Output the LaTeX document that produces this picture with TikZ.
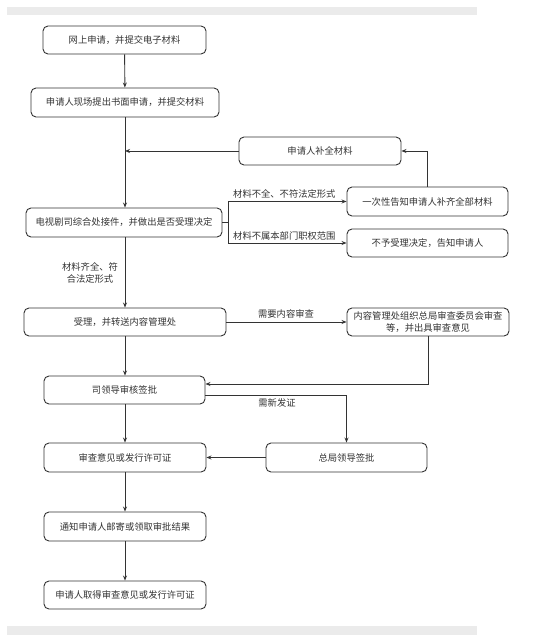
\documentclass[tikz,border=0pt]{standalone}
\usepackage{fontspec}
\setmainfont{Noto Sans CJK SC}
\usetikzlibrary{arrows.meta,calc}
\definecolor{ink}{HTML}{333333}
\definecolor{barc}{HTML}{EBEBEB}
\tikzset{
  box/.style={draw=ink,line width=0.9pt,rounded corners=5pt,text=ink,font=\fontsize{9.3}{12}\selectfont,align=center,inner sep=1pt},
  conn/.style={draw=ink,line width=0.9pt,-{Stealth[length=5pt,width=4pt]}},
  plain/.style={draw=ink,line width=0.9pt},
  lbl/.style={text=ink,font=\fontsize{9.3}{12}\selectfont,inner sep=1pt}
}
\begin{document}
\begin{tikzpicture}[x=1pt,y=-1pt]
\useasboundingbox[fill=white] (0,0) rectangle (553,644);
\fill[barc] (7,7) rectangle (477,15);
\fill[barc] (7,626) rectangle (477,635);

\node[box,minimum width=163pt,minimum height=28pt] (b1) at (124.5,40) {网上申请，并提交电子材料};
\node[box,minimum width=188pt,minimum height=29pt] (b2) at (125,102.5) {申请人现场提出书面申请，并提交材料};
\node[box,minimum width=162pt,minimum height=28pt] (b3) at (320,151) {申请人补全材料};
\node[box,minimum width=161pt,minimum height=29pt] (b4) at (427.5,201.5) {一次性告知申请人补齐全部材料};
\node[box,minimum width=196pt,minimum height=29pt] (b5) at (124,222.5) {电视剧司综合处接件，并做出是否受理决定};
\node[box,minimum width=161pt,minimum height=28pt] (b6) at (427.5,243) {不予受理决定，告知申请人};
\node[box,minimum width=202pt,minimum height=28pt] (b7) at (125,322) {受理，并转送内容管理处};
\node[box,minimum width=162pt,minimum height=28pt] (b8) at (428,322) {内容管理处组织总局审查委员会审查\\等，并出具审查意见};
\node[box,minimum width=161pt,minimum height=28pt] (b9) at (124.5,390) {司领导审核签批};
\node[box,minimum width=162pt,minimum height=29pt] (b10) at (125,457.5) {审查意见或发行许可证};
\node[box,minimum width=161pt,minimum height=29pt] (b11) at (346.5,457.5) {总局领导签批};
\node[box,minimum width=162pt,minimum height=29pt] (b12) at (125,526.5) {通知申请人邮寄或领取审批结果};
\node[box,minimum width=162pt,minimum height=28pt] (b13) at (125,595) {申请人取得审查意见或发行许可证};

\draw[conn] (b1) -- (b2);
\draw[conn] (b2) -- (b2 |- b5.north);
\draw[conn] (b3.west) -- (b3.west -| b2);
\draw[plain] (b5.east) -- ++(6,0) coordinate (br);
\draw[conn] (br) |- (b4.west);
\draw[conn] (br) |- (b6.west);
\draw[conn] (b4.north) |- (b3.east);
\node[lbl,anchor=south west] (l1) at (232,199) {材料不全、不符法定形式};
\node[lbl,anchor=south west] (l2) at (232,241) {材料不属本部门职权范围};
\draw[conn] (b5.south -| b2) -- (b7.north -| b2);
\node[lbl,align=center] (l3) at (90,273) {材料齐全、符\\合法定形式};
\draw[conn] (b7.east) -- (b8.west);
\node[lbl] (l4) at (286,314) {需要内容审查};
\draw[conn] (b8.south) |- ([yshift=6pt]b9.east);
\draw[conn] ([yshift=-5pt]b9.east) -| (b11.north);
\node[lbl] (l5) at (277,403) {需新发证};
\draw[conn] (b7.south -| b2) -- (b9.north -| b2);
\draw[conn] (b9.south -| b2) -- (b10.north -| b2);
\draw[conn] (b11.west) -- (b10.east);
\draw[conn] (b10) -- (b12);
\draw[conn] (b12) -- (b13);
\end{tikzpicture}
\end{document}
